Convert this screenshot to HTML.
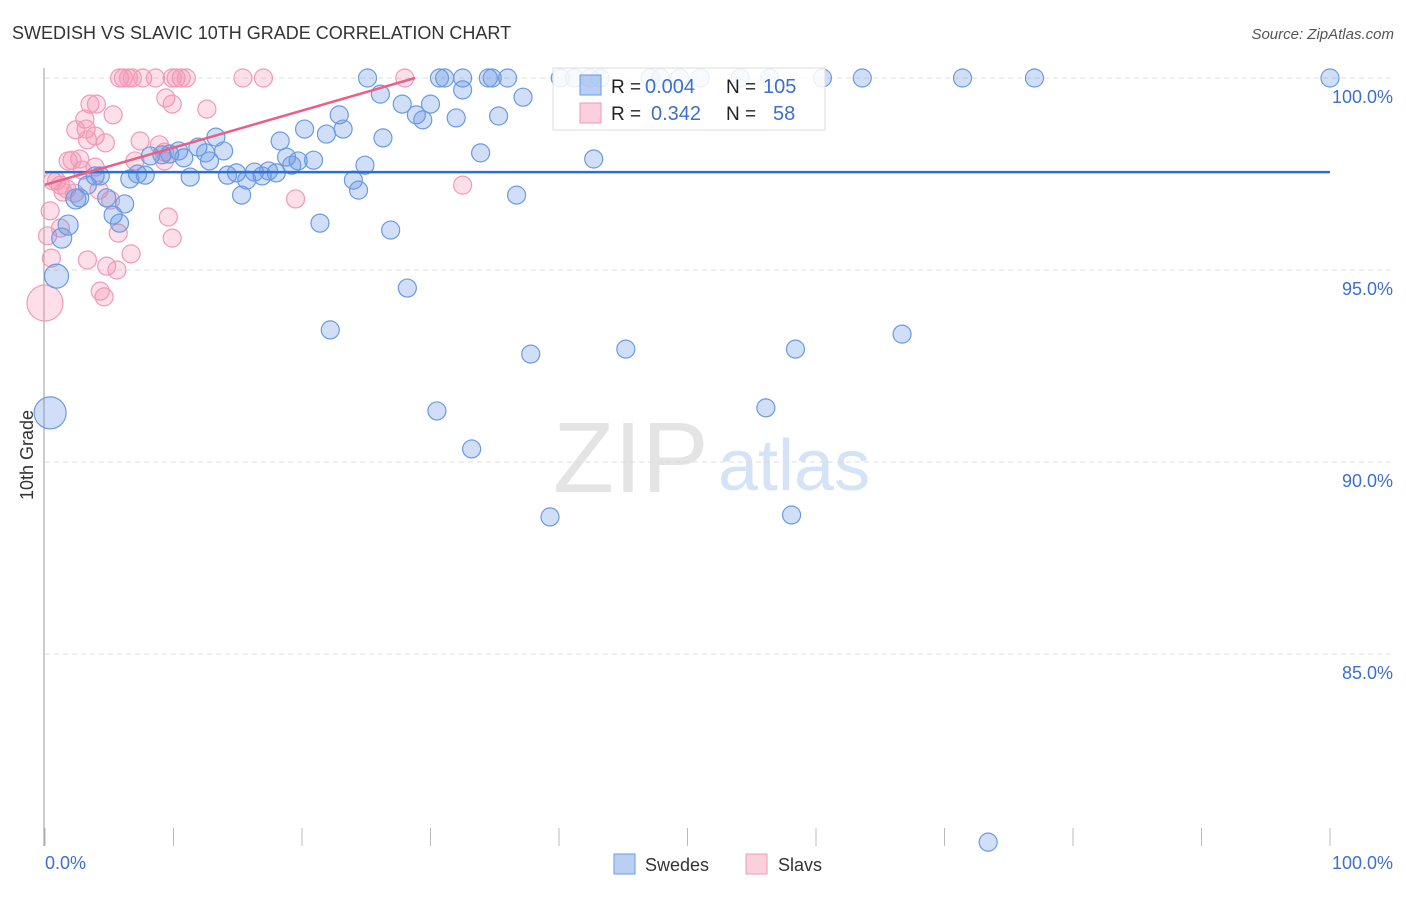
<!DOCTYPE html>
<html><head><meta charset="utf-8">
<style>
body{margin:0;background:#fff;font-family:"Liberation Sans",sans-serif;}
svg text{font-family:"Liberation Sans",sans-serif;}
</style></head>
<body>
<svg id="chart" width="1406" height="892" xmlns="http://www.w3.org/2000/svg">
<text x="12" y="39" font-size="18" fill="#333">SWEDISH VS SLAVIC 10TH GRADE CORRELATION CHART</text>
<text x="1394" y="39" font-size="15" fill="#555" text-anchor="end" font-style="italic">Source: ZipAtlas.com</text>
<g>
<text x="553" y="492" font-size="100" fill="#e4e4e4" font-family="Liberation Serif, serif">ZIP</text>
<text x="718" y="490" font-size="72" fill="#d5e3f6">atlas</text>
</g>
<g id="grid"></g>
<g id="axes"></g>
<g id="points"></g>
<g id="trends"></g>
<g>
<rect x="553" y="68" width="272" height="62" fill="rgba(255,255,255,0.85)" stroke="#ddd"/>
<rect x="580" y="75" width="21" height="20" fill="rgba(100,150,230,0.45)" stroke="#6a9ae0"/>
<rect x="580" y="103" width="21" height="20" fill="rgba(245,150,180,0.45)" stroke="#ef9ab5"/>
<text x="611" y="93" font-size="19" fill="#222">R = </text><text x="645" y="93" font-size="20" fill="#3d6fd0">0.004</text>
<text x="726" y="93" font-size="19" fill="#222">N = </text><text x="763" y="93" font-size="20" fill="#3d6fd0">105</text>
<text x="611" y="120" font-size="19" fill="#222">R = </text><text x="651" y="120" font-size="20" fill="#3d6fd0">0.342</text>
<text x="726" y="120" font-size="19" fill="#222">N = </text><text x="773" y="120" font-size="20" fill="#3d6fd0">58</text>
</g>
<g>
<rect x="614" y="854" width="21" height="20" fill="rgba(100,150,230,0.45)" stroke="#6a9ae0"/>
<text x="645" y="871" font-size="18" fill="#333">Swedes</text>
<rect x="746" y="854" width="21" height="20" fill="rgba(245,150,180,0.45)" stroke="#ef9ab5"/>
<text x="778" y="871" font-size="18" fill="#333">Slavs</text>
</g>
<text transform="translate(33,455) rotate(-90)" font-size="18" fill="#333" text-anchor="middle">10th Grade</text>
</svg>
<script>
const yTicks=[100,95,90,85];
const yTickLabels=["100.0%","95.0%","90.0%","85.0%"];
const blueX=[25.1,30.7,31.1,32.5,34.5,34.8,36.0,40.1,41.2,42.4,43.2,47.1,47.9,49.4,51.0,54.1,56.4,60.5,63.6,71.4,77.0,100,
26.1,32.5,27.8,30.0,37.2,22.9,28.9,29.4,32.0,35.3,20.2,21.9,23.2,26.3,13.3,18.3,11.9,8.2,9.1,9.7,10.4,10.8,12.5,12.8,13.9,18.8,19.7,20.9,24.9,33.9,42.7,
6.6,7.2,7.8,11.3,14.2,14.9,15.7,16.3,16.9,17.4,18.0,19.2,24.0,24.4,36.7,15.3,3.3,3.9,4.3,2.4,2.7,4.8,6.2,5.3,5.8,1.8,1.3,0.9,21.4,26.9,28.2,22.2,37.8,45.2,58.4,66.7,30.5,56.1,33.2,39.3,58.1,73.4,0.4];
const blueY=[100,100,100,100,100,100,100,100,100,100,100,100,100,100,100,100,100,100,100,100,100,100,
99.58,99.69,99.32,99.32,99.5,99.04,99.04,98.91,98.96,99.01,98.67,98.54,98.67,98.44,98.46,98.36,98.2,97.97,98.0,98.02,98.1,97.92,98.05,97.84,98.1,97.94,97.84,97.86,97.73,98.05,97.89,
97.37,97.5,97.47,97.42,97.47,97.53,97.34,97.55,97.45,97.58,97.53,97.73,97.34,97.08,96.95,96.95,97.21,97.45,97.45,96.85,96.88,96.88,96.72,96.43,96.22,96.17,95.83,94.84,96.22,96.04,94.53,93.44,92.81,92.94,92.94,93.33,91.33,91.41,90.34,88.57,88.62,80.1,91.28];
const blueR=blueX.map((x,i)=>(x===0.4&&blueY[i]===91.28)?16:((x===0.9&&blueY[i]===94.84)?12:(x<2.5?10:9)));
const pinkX=[5.8,6.1,6.5,6.8,7.6,8.6,9.9,10.2,10.6,11.0,15.4,17.0,28.0,
9.4,9.9,12.6,3.5,4.0,5.3,3.1,3.2,2.4,3.9,4.7,7.4,8.9,9.3,1.8,2.1,2.7,3.9,7.0,0.6,0.9,1.2,1.7,2.3,4.2,5.1,9.3,19.5,32.5,0.4,0.2,0.5,1.4,3.3,4.8,5.6,6.7,4.3,4.6,9.6,5.7,9.9,0.0,1.2,2.9,3.3];
const pinkY=[100,100,100,100,100,100,100,100,100,100,100,100,100,
99.48,99.32,99.19,99.32,99.32,99.04,98.93,98.67,98.65,98.49,98.31,98.36,98.26,98.07,97.84,97.86,97.89,97.68,97.84,97.32,97.32,97.21,97.11,97.0,97.08,96.82,97.84,96.85,97.21,96.54,95.89,95.31,97.03,95.26,95.1,95.0,95.42,94.45,94.3,96.38,95.96,95.83,94.14,96.09,97.6,98.39];
const pinkR=pinkX.map((x,i)=>(x===0.0&&pinkY[i]===94.14)?18:9);
const blueTrend=[[0,97.55],[100,97.55]];
const pinkTrend=[[0,97.22],[28.8,100]];
const NS="http://www.w3.org/2000/svg";
const xs=v=>45+v*12.85, ys=v=>78+(100-v)*38.4;
function mk(tag,attrs,parent){const e=document.createElementNS(NS,tag);for(const k in attrs)e.setAttribute(k,attrs[k]);document.getElementById(parent).appendChild(e);return e;}
yTicks.forEach((t,i)=>{
  const g=mk('line',{x1:45,x2:1394,y1:ys(t),y2:ys(t),stroke:'#ddd','stroke-dasharray':'5,4'},'grid');
  
  
  const tx=mk('text',{x:1393,y:ys(t)+25,'font-size':18,fill:'#3d6fd0','text-anchor':'end'},'grid');
  tx.textContent=yTickLabels[i];
  
  
});
const ya=mk('line',{x1:44,x2:44,y1:68,y2:846,stroke:'#999'},'axes');


for(let i=0;i<=10;i++){
  const t=mk('line',{x1:xs(i*10),x2:xs(i*10),y1:828,y2:846,stroke:'#bbb'},'axes');
  
  
}
const xl=mk('text',{x:45,y:869,'font-size':18,fill:'#3d6fd0'},'axes');xl.textContent='0.0%';


const xr=mk('text',{x:1393,y:869,'font-size':18,fill:'#3d6fd0','text-anchor':'end'},'axes');xr.textContent='100.0%';


pinkX.forEach((x,i)=>{
  const c=mk('circle',{cx:xs(x),cy:ys(pinkY[i]),r:pinkR[i],fill:'rgba(245,150,180,0.3)',stroke:'#f09ab6','stroke-width':1.2},'points');
  
  
});
blueX.forEach((x,i)=>{
  const c=mk('circle',{cx:xs(x),cy:ys(blueY[i]),r:blueR[i],fill:'rgba(100,150,230,0.3)',stroke:'#6a9ae0','stroke-width':1.2},'points');
  
  
});
const bl=mk('line',{x1:xs(blueTrend[0][0]),y1:ys(blueTrend[0][1]),x2:xs(blueTrend[1][0]),y2:ys(blueTrend[1][1]),stroke:'#2a6fd6','stroke-width':2.5},'trends');


const pl=mk('line',{x1:xs(pinkTrend[0][0]),y1:ys(pinkTrend[0][1]),x2:xs(pinkTrend[1][0]),y2:ys(pinkTrend[1][1]),stroke:'#e8608a','stroke-width':2.5},'trends');


</script>
</body></html>
